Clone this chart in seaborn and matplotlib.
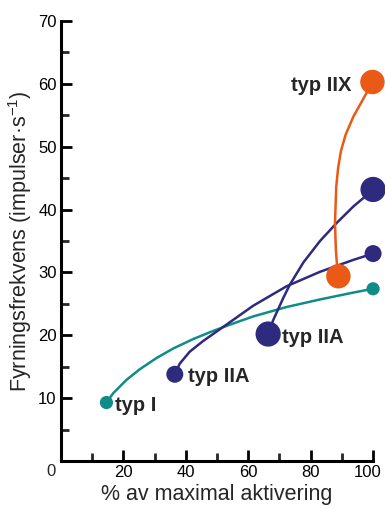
import pandas as pd
import seaborn as sns
from matplotlib import pyplot as plt
from matplotlib import transforms
from matplotlib.ticker import MultipleLocator

# curve paths (% av maximal aktivering, impulser/s)
typI_x = [14.6, 16.8, 21.0, 25.3, 30.7, 36.0, 42.4, 47.8, 54.2, 61.6, 72.3, 83.0, 93.7, 100.0]
typI_y = [9.3, 10.8, 12.9, 14.6, 16.4, 17.9, 19.4, 20.5, 21.7, 23.0, 24.5, 25.7, 26.8, 27.4]

typIIA_low_x = [36.5, 38.1, 41.3, 45.6, 49.9, 54.2, 61.6, 72.3, 83.0, 93.7, 100.0]
typIIA_low_y = [13.8, 15.5, 17.4, 19.1, 20.6, 22.1, 24.7, 27.8, 30.1, 32.0, 33.0]

typIIA_high_x = [66.4, 68.0, 71.3, 73.4, 77.7, 83.0, 88.4, 93.7, 98.0, 100.0]
typIIA_high_y = [20.2, 22.4, 26.0, 28.1, 31.6, 35.0, 37.9, 40.5, 42.3, 43.2]

typIIX_x = [88.9, 88.4, 88.1, 87.8, 87.8, 88.2, 88.8, 89.7, 91.2, 93.7, 96.4, 98.5, 99.8]
typIIX_y = [29.4, 31.5, 33.5, 35.7, 39.9, 43.6, 46.6, 49.3, 51.9, 54.8, 57.2, 59.1, 60.3]

# end markers
dot_x = [14.6, 100, 36.5, 100, 66.4, 100, 88.9, 99.8]
dot_y = [9.3, 27.4, 13.8, 33.0, 20.2, 43.2, 29.4, 60.3]
dot_group = ['I', 'I', 'IIAl', 'IIAl', 'IIAh', 'IIAh', 'IIX', 'IIX']
dot_size = [90, 90, 150, 150, 330, 330, 310, 310]

labels = ['typ I', 'typ IIA', 'typ IIA', 'typ IIX']
label_x = [17.3, 40.8, 70.7, 93.2]
label_y = [8.8, 13.5, 19.7, 59.8]
label_ha = ['left', 'left', 'left', 'right']

colors = {'I': '#0f8c87', 'IIAl': '#2e2a7e', 'IIAh': '#2e2a7e', 'IIX': '#ea5a16'}

sns.set_style('ticks')
plt.rcParams['font.family'] = ['Liberation Sans', 'DejaVu Sans']
plt.rcParams['mathtext.default'] = 'regular'

fig = plt.figure(figsize=(3.85, 5.09), dpi=100)
ax = fig.add_axes([0.158, 0.0943, 0.811, 0.8644])

curves = [('I', typI_x, typI_y), ('IIAl', typIIA_low_x, typIIA_low_y),
          ('IIAh', typIIA_high_x, typIIA_high_y), ('IIX', typIIX_x, typIIX_y)]
for key, xs, ys in curves:
    sns.lineplot(x=xs, y=ys, sort=False, color=colors[key], linewidth=1.8, ax=ax)

dots = pd.DataFrame({'x': dot_x, 'y': dot_y, 'g': dot_group, 's': dot_size})
sns.scatterplot(data=dots, x='x', y='y', hue='g', palette=colors, size='s',
                sizes=(90, 330), linewidth=0, legend=False, zorder=5, clip_on=False, ax=ax)

for t, lx, ly, ha in zip(labels, label_x, label_y, label_ha):
    ax.text(lx, ly, t, ha=ha, va='center', fontsize=14.5, fontweight='bold')

ax.set_xlim(0, 100)
ax.set_ylim(0, 70)
ax.xaxis.set_minor_locator(MultipleLocator(10))
ax.yaxis.set_minor_locator(MultipleLocator(5))
ax.set_xticks([20, 40, 60, 80, 100])
ax.set_yticks([10, 20, 30, 40, 50, 60, 70])
ax.tick_params(which='major', direction='in', length=8, width=2, labelsize=12, pad=3, colors='black')
ax.tick_params(which='minor', direction='in', length=6, width=2)
ax.text(-0.03, -0.024, '0', transform=ax.transAxes, ha='center', va='center', fontsize=12)

# the "100" label sits at the right edge of the figure, nudge it in a little
last = ax.get_xticklabels()[-1]
last.set_transform(last.get_transform() + transforms.ScaledTranslation(-4 / 72, 0, fig.dpi_scale_trans))

sns.despine(ax=ax)
for sp in ['left', 'bottom']:
    ax.spines[sp].set_linewidth(2.2)
    ax.spines[sp].set_color('black')

ax.set_xlabel('% av maximal aktivering', fontsize=15.5, labelpad=3)
ax.set_ylabel('Fyrningsfrekvens (impulser·s$^{-1}$)', fontsize=15.5, labelpad=3)

fig.savefig('out.png', dpi=100)
